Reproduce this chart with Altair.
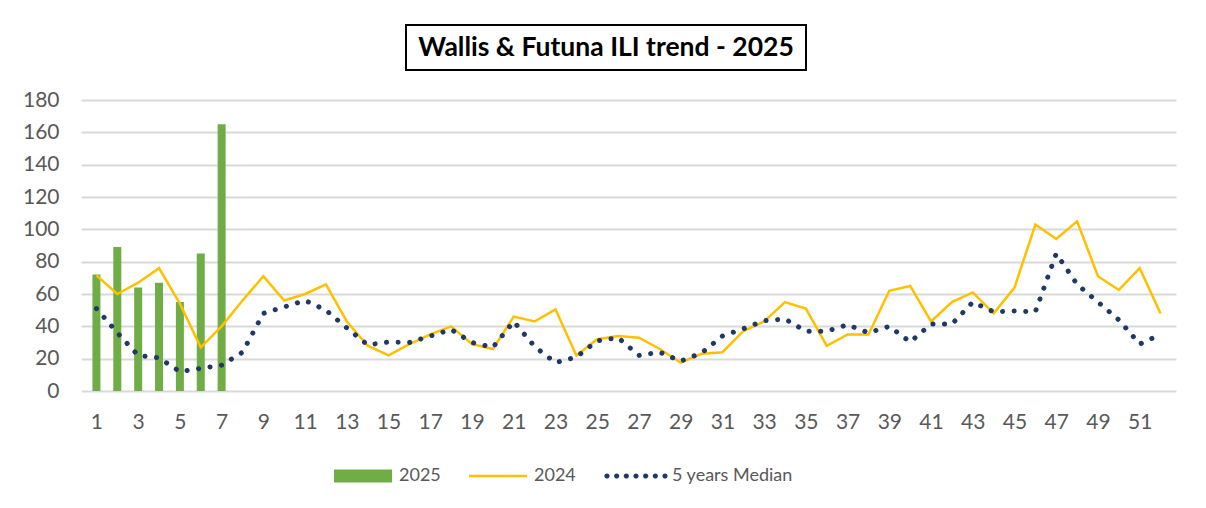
import altair as alt
import pandas as pd

# ---------------- data ----------------
weeks = list(range(1, 53))
weeks_2025 = [1, 2, 3, 4, 5, 6, 7]
cases_2025 = [72, 89, 64, 67, 55, 85, 165]
cases_2024 = [71.5, 60, 67, 76, 54, 27, 40, 56, 71, 56,
              60, 66, 43, 28, 22, 29, 35, 40, 29, 26,
              46, 43, 50.5, 22, 32, 34, 33, 26, 17.5, 23,
              24, 37, 43, 55, 51, 28, 35, 35, 62, 65,
              43, 55, 61, 48, 64, 103, 94, 105, 71, 62.5,
              76, 48]
median_5y = [51, 36, 22, 20.5, 12, 14, 16, 24, 48, 52,
             56, 50, 39, 28.5, 30.3, 30, 34, 38, 30, 27,
             43, 27.5, 17.5, 21, 31, 33, 22, 24, 18.5, 23.5,
             34, 38.5, 43.5, 44.5, 37, 37, 41, 36, 40, 30.3,
             41.4, 41.4, 55, 49, 49.5, 49, 85, 66, 55, 44,
             29, 35]
series_names = ["2025", "2024", "5 years Median"]
series_colors = ["#70ad47", "#ffc000", "#203864"]
y_ticks = list(range(0, 181, 20))
x_ticks = list(range(1, 52, 2))
title_text = "Wallis & Futuna ILI trend - 2025"

df25 = pd.DataFrame({"week": weeks_2025, "value": cases_2025, "series": "2025"})
df24 = pd.DataFrame({"week": weeks, "value": cases_2024, "series": "2024"})
dfm = pd.DataFrame({"week": weeks, "value": median_5y, "series": "5 years Median"})
dfall = pd.concat([df25, df24, dfm], ignore_index=True)

# ---------------- legend symbol shapes ----------------
rect_path = "M-1,-0.224H1V0.224H-1Z"
line_path = "M-1,-0.043H1V0.043H-1Z"
r = 0.09
dots = []
for i in range(7):
    cx = -1 + i / 3
    dots.append(f"M{cx - r:.3f},0A{r},{r} 0 1,0 {cx + r:.3f},0A{r},{r} 0 1,0 {cx - r:.3f},0Z")
dots_path = "".join(dots)
legend_shapes = [rect_path, line_path, dots_path]

FONT = "Lato"
GRAY = "#595959"

x_enc = alt.X("week:Q",
              scale=alt.Scale(domain=[0.5, 52.5], nice=False, zero=False),
              axis=alt.Axis(values=x_ticks, grid=False, domain=False, ticks=False, tickSize=0,
                            labelPadding=20, labelOverlap=False, labelFontSize=21,
                            labelColor=GRAY, labelFont=FONT, format="d"),
              title=None)
y_enc = alt.Y("value:Q",
              scale=alt.Scale(domain=[0, 180], nice=False),
              axis=alt.Axis(values=y_ticks, grid=True, gridColor="#d9d9d9", gridWidth=2,
                            domain=False, ticks=False, tickSize=0, labelPadding=22,
                            labelFontSize=21, labelColor=GRAY, labelFont=FONT),
              title=None)

bars = alt.Chart(df25).mark_bar(color=series_colors[0], size=8).encode(x=x_enc, y=y_enc)
line24 = alt.Chart(df24).mark_line(color=series_colors[1], strokeWidth=2.5).encode(x=x_enc, y=y_enc)
med = alt.Chart(dfm).mark_line(color=series_colors[2], strokeWidth=5, strokeDash=[0.1, 11.5],
                               strokeCap="round").encode(x=x_enc, y=y_enc)

leg_def = alt.Legend(orient="none", legendX=253, legendY=422, direction="horizontal",
                     title=None, symbolSize=3364, symbolOpacity=1, symbolStrokeWidth=0,
                     labelFont=FONT, labelFontSize=18, labelColor=GRAY, labelOffset=7,
                     columnPadding=28)
leg = alt.Chart(dfall).mark_point(filled=True, opacity=0).encode(
    x=x_enc, y=y_enc,
    color=alt.Color("series:N", scale=alt.Scale(domain=series_names, range=series_colors), legend=leg_def),
    shape=alt.Shape("series:N", scale=alt.Scale(domain=series_names, range=legend_shapes), legend=leg_def),
)

main = alt.layer(bars, line24, med, leg).properties(width=1095, height=291)

spacer = alt.Chart(pd.DataFrame({"t": [""]})).mark_text().encode(text="t:N").properties(width=324, height=45)

title_chart = alt.Chart(pd.DataFrame({"label": [title_text]})).mark_text(
    font=FONT, fontSize=26.5, fontWeight="bold", color="#000000", baseline="middle", align="center"
).encode(text="label:N").properties(
    width=400, height=45, view=alt.ViewBackground(stroke="#000000", strokeWidth=2)
)

top_row = alt.hconcat(spacer, title_chart, spacing=0)

chart = alt.vconcat(top_row, main, spacing=18).properties(
    padding={"left": 14, "top": 16, "right": 5, "bottom": 0},
    background="#ffffff",
).configure_view(strokeWidth=0)

chart.save("out.html", embed_options={"renderer": "svg", "actions": False})
